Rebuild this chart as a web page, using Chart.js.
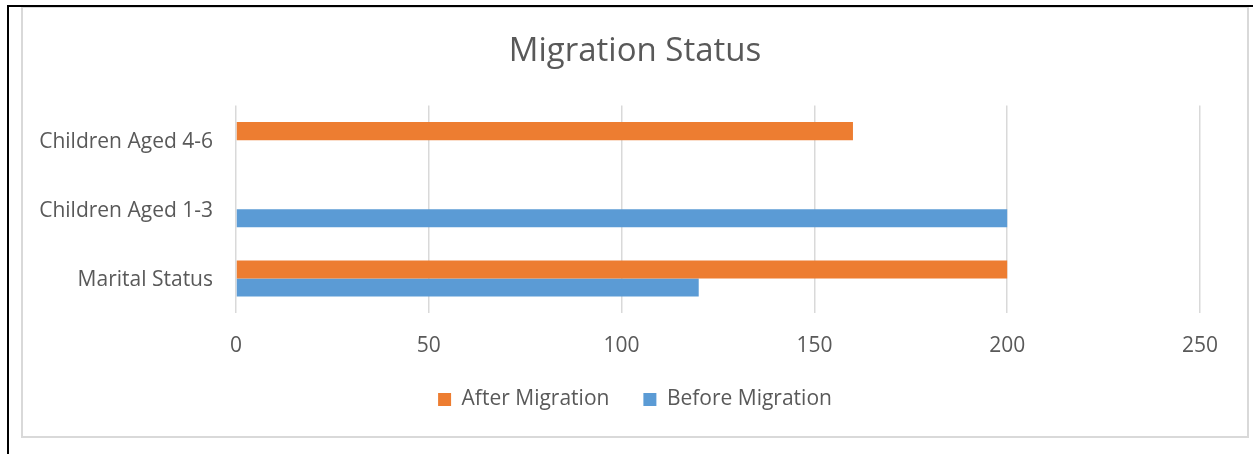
<!DOCTYPE html>
<html>
<head>
<meta charset="utf-8">
<script src="https://cdn.jsdelivr.net/npm/chart.js@4/dist/chart.umd.min.js"></script>
<style>
  html, body { margin: 0; padding: 0; background: #fff; width: 1253px; height: 454px; overflow: hidden; }
  #frame { position: absolute; left: 21px; top: 6px; width: 1224px; height: 428px; border: 2px solid #D9D9D9; background: #fff; }
  #wrap { position: absolute; left: 23px; top: 8px; width: 1224px; height: 428px; }
  .blk { position: absolute; background: #000; z-index: 5; }
</style>
</head>
<body>
<div id="frame"></div>
<div id="wrap"><canvas id="c"></canvas></div>
<div class="blk" style="left:7px; top:5px; width:1246px; height:2px;"></div>
<div class="blk" style="left:7px; top:5px; width:2px; height:449px;"></div>
<script>
const categories = ['Children Aged 4-6', 'Children Aged 1-3', 'Marital Status'];
const afterMigration = [160, 0, 200];
const beforeMigration = [0, 200, 120];
const seriesNames = ['After Migration', 'Before Migration'];
const tickValues = [0, 50, 100, 150, 200, 250];
const titleText = 'Migration Status';

const FONT = "'Open Sans', sans-serif";
const TEXT = '#595959';

new Chart(document.getElementById('c'), {
  type: 'bar',
  data: {
    labels: categories,
    datasets: [
      { label: seriesNames[0], data: afterMigration, backgroundColor: '#ED7D31', borderWidth: 0 },
      { label: seriesNames[1], data: beforeMigration, backgroundColor: '#5B9BD5', borderWidth: 0 }
    ]
  },
  options: {
    indexAxis: 'y',
    responsive: true,
    maintainAspectRatio: false,
    animation: false,
    datasets: { bar: { categoryPercentage: 0.522, barPercentage: 1.0 } },
    layout: { padding: { left: 0, right: 0, top: 0, bottom: 16 } },
    scales: {
      x: {
        min: tickValues[0],
        max: tickValues[tickValues.length - 1],
        afterBuildTicks: (s) => { s.ticks = tickValues.map(v => ({ value: v })); },
        grid: { color: '#D9D9D9', lineWidth: 1.5, drawTicks: false },
        border: { display: false },
        ticks: { color: TEXT, font: { family: FONT, size: 21 }, padding: 20 },
        afterFit: (s) => { s.height = 42; }
      },
      y: {
        grid: { display: false, drawTicks: false },
        border: { display: false },
        ticks: { color: TEXT, font: { family: FONT, size: 21 }, padding: 23, labelOffset: 2 },
        afterFit: (s) => { s.width = 213; }
      },
      yRight: {
        type: 'category',
        position: 'right',
        grid: { display: false, drawTicks: false },
        border: { display: false },
        ticks: { display: false },
        afterFit: (s) => { s.width = 47; }
      }
    },
    plugins: {
      title: {
        display: true,
        text: titleText,
        color: TEXT,
        font: { family: FONT, size: 33, weight: 'normal' },
        padding: { top: 24, bottom: 34 }
      },
      legend: {
        position: 'bottom',
        labels: { color: TEXT, font: { family: FONT, size: 21 }, boxWidth: 13, boxHeight: 13, padding: 34 }
      },
      tooltip: { enabled: false }
    }
  }
});
</script>
</body>
</html>
